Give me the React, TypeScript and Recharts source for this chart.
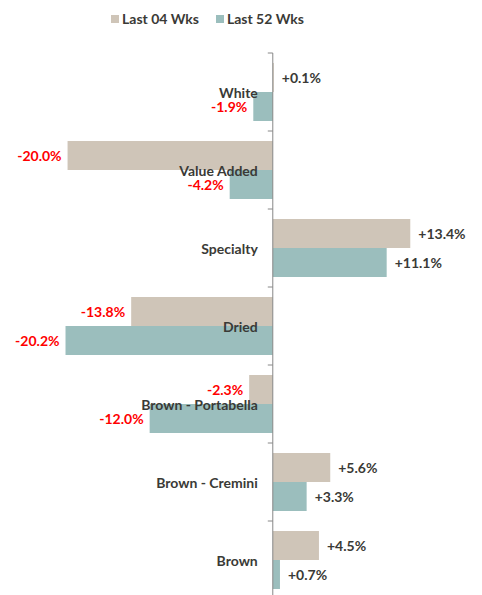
import React from "react";
import { Bar, BarChart, LabelList, ReferenceLine, XAxis, YAxis } from "recharts";

const categories = ["White", "Value Added", "Specialty", "Dried", "Brown - Portabella", "Brown - Cremini", "Brown"];
const last04 = [0.1, -20.0, 13.4, -13.8, -2.3, 5.6, 4.5];
const last52 = [-1.9, -4.2, 11.1, -20.2, -12.0, 3.3, 0.7];

const COLOR_04 = "#CFC5B8";
const COLOR_52 = "#9BBEBD";
const TEXT = "#3A3A36";
const FONT = "Lato, 'Liberation Sans', sans-serif";
const GAP = 10;

const data = categories.map((name, i) => ({ name, w04: last04[i], w52: last52[i] }));

const fmt = (v: number) => (v >= 0 ? "+" : "") + v.toFixed(1) + "%";

// value label: right of positive bars, left of negative ones
const ValueLabel = (props: any) => {
    const { x, y, width, height, value } = props;
    const left = Math.min(x, x + width);
    const right = Math.max(x, x + width);
    const neg = value < 0;
    return (
        <text
            x={neg ? left - 6 : right + 8}
            y={y + height / 2}
            textAnchor={neg ? "end" : "start"}
            dominantBaseline="central"
            fill={neg ? "#FF0000" : TEXT}
            fontFamily={FONT}
            fontWeight="bold"
            fontSize={14}
        >
            {fmt(value)}
        </text>
    );
};

// category name sits next to the zero line, at the middle of the band
const CategoryLabel = (props: any) => {
    const { x, y, width, height, value, index } = props;
    const zero = value < 0 ? Math.max(x, x + width) : Math.min(x, x + width);
    const bandTop = y - height - GAP;
    return (
        <g>
            <line x1={zero - 5} x2={zero} y1={bandTop} y2={bandTop} stroke="#888" strokeWidth={1} />
            <text
                x={zero - 15}
                y={y}
                textAnchor="end"
                dominantBaseline="central"
                fill={TEXT}
                fontFamily={FONT}
                fontWeight="bold"
                fontSize={14}
            >
                {data[index].name}
            </text>
        </g>
    );
};

const LegendBox = ({ color, label }: { color: string; label: string }) => (
    <span style={{ display: "inline-flex", alignItems: "center", marginRight: 17 }}>
        <span style={{ display: "inline-block", width: 8, height: 8, background: color, marginRight: 3 }} />
        <span>{label}</span>
    </span>
);

export default function App() {
    return (
        <div style={{ position: "absolute", left: 0, top: 0, width: 482, height: 595, overflow: "hidden", background: "#fff" }}>
            <div
                style={{
                    position: "absolute",
                    left: 111,
                    top: 10,
                    display: "flex",
                    fontFamily: FONT,
                    fontWeight: "bold",
                    fontSize: 14,
                    color: TEXT,
                    whiteSpace: "nowrap",
                }}
            >
                <LegendBox color={COLOR_04} label="Last 04 Wks" />
                <LegendBox color={COLOR_52} label="Last 52 Wks" />
            </div>
            <BarChart
                width={482}
                height={599}
                data={data}
                layout="vertical"
                margin={{ top: 53, right: 4, bottom: 0, left: 6 }}
                barCategoryGap={GAP}
                barGap={0}
            >
                <XAxis type="number" domain={[-26, 20]} hide />
                <YAxis type="category" dataKey="name" hide />
                <Bar dataKey="w04" fill={COLOR_04} isAnimationActive={false}>
                    <LabelList dataKey="w04" content={<ValueLabel />} />
                </Bar>
                <Bar dataKey="w52" fill={COLOR_52} isAnimationActive={false}>
                    <LabelList dataKey="w52" content={<ValueLabel />} />
                    <LabelList dataKey="w52" content={<CategoryLabel />} />
                </Bar>
                <ReferenceLine x={0} stroke="#888" strokeWidth={1} ifOverflow="visible" />
            </BarChart>
        </div>
    );
}
